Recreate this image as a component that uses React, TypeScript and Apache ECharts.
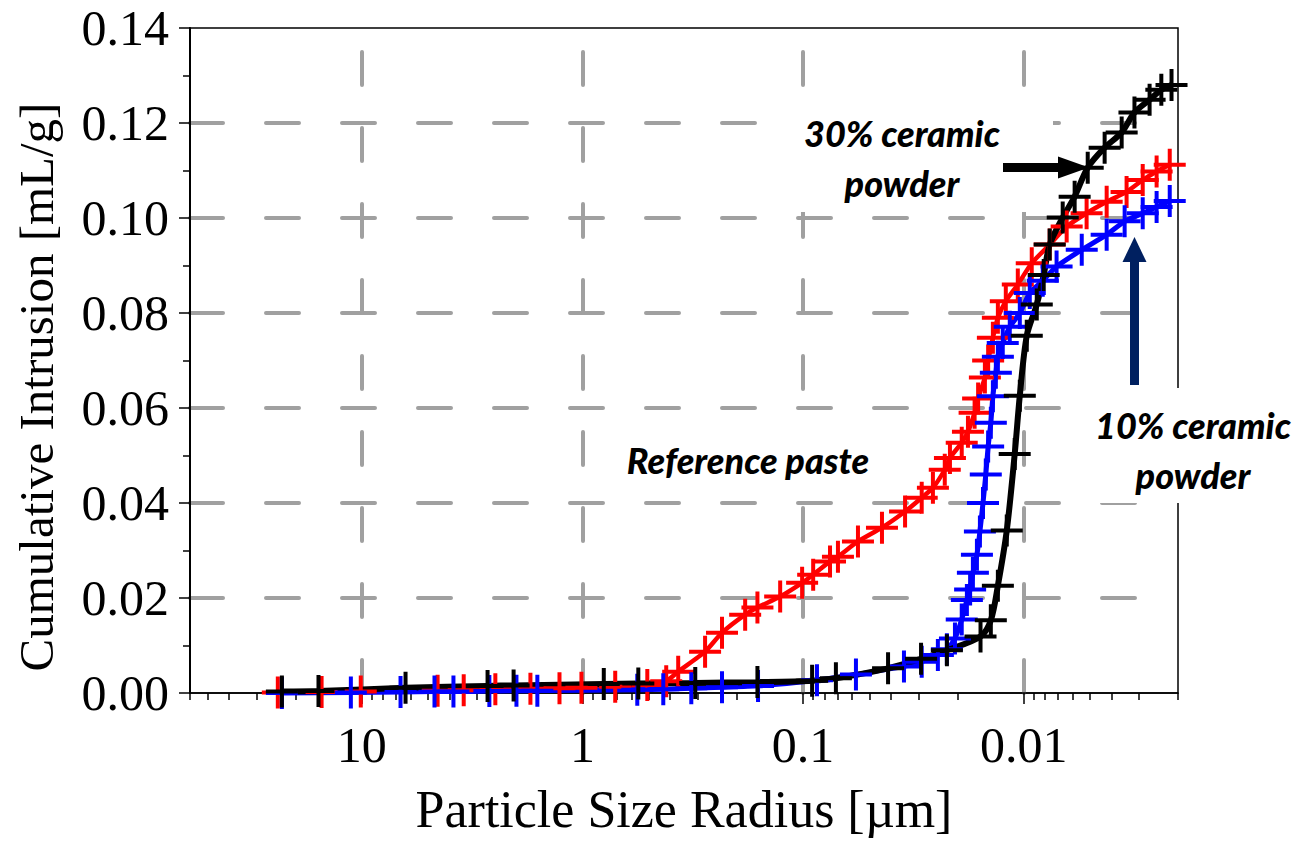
import React, { useEffect, useRef } from 'react';
import * as echarts from 'echarts';

// Mercury intrusion porosimetry: cumulative intrusion vs pore radius
// Reference paste (no ceramic powder)
const refRadius = [
  24.0, 15.2, 10.1, 4.53, 3.45, 2.48, 1.72, 1.27, 1.01, 0.71, 0.508, 0.417,
  0.368, 0.278, 0.233, 0.183, 0.161, 0.127, 0.101, 0.09, 0.0755, 0.0695,
  0.0564, 0.0439, 0.0345, 0.029, 0.0258, 0.0228, 0.0216, 0.0191, 0.0179,
  0.0167, 0.0161, 0.015, 0.0145, 0.0138, 0.0131, 0.01206, 0.01064, 0.0092,
  0.00763, 0.00639, 0.00519, 0.00421, 0.00342, 0.00289, 0.0025, 0.00218,
];
const refIntrusion = [
  0.0001, 0.0002, 0.0003, 0.0005, 0.0006, 0.0008, 0.0009, 0.001, 0.0011,
  0.0013, 0.0017, 0.0025, 0.0045, 0.0087, 0.0127, 0.0165, 0.018, 0.0203,
  0.0232, 0.0249, 0.0277, 0.0287, 0.0319, 0.0348, 0.0382, 0.0411, 0.0432,
  0.047, 0.0495, 0.0527, 0.055, 0.059, 0.062, 0.0664, 0.07, 0.0748, 0.079,
  0.0825, 0.086, 0.0905, 0.0944, 0.0982, 0.101, 0.1034, 0.1055, 0.108,
  0.1098, 0.1112,
];

// 10% ceramic powder
const c10Radius = [
  23.0, 11.2, 6.67, 4.68, 3.84, 2.64, 1.99, 1.6, 0.564, 0.43, 0.321, 0.233,
  0.16, 0.0865, 0.0576, 0.0349, 0.029, 0.0245, 0.0223, 0.0205, 0.0191,
  0.0181, 0.0175, 0.017, 0.0163, 0.0158, 0.0153, 0.01486, 0.0145, 0.0141,
  0.0138, 0.01338, 0.0131, 0.01245, 0.01157, 0.01042, 0.00939, 0.0082,
  0.0071, 0.00546, 0.00421, 0.00349, 0.00289, 0.0025, 0.00218,
];
const c10Intrusion = [
  0.0, 0.0001, 0.0002, 0.0003, 0.0003, 0.0004, 0.0005, 0.0005, 0.0007,
  0.0008, 0.001, 0.0012, 0.0015, 0.0027, 0.0039, 0.0056, 0.0066, 0.008,
  0.0092, 0.0115, 0.0155, 0.0196, 0.0218, 0.0253, 0.0291, 0.034, 0.04,
  0.046, 0.0519, 0.0569, 0.0625, 0.0674, 0.0708, 0.0737, 0.0771, 0.08,
  0.0842, 0.0868, 0.0898, 0.0933, 0.0965, 0.0993, 0.101, 0.1023, 0.1036,
];

// 30% ceramic powder
const c30Radius = [
  23.0, 15.7, 6.33, 2.69, 2.05, 0.8, 0.558, 0.308, 0.161, 0.091, 0.071,
  0.0412, 0.0292, 0.0223, 0.0157, 0.0141, 0.0131, 0.01194, 0.01099, 0.01042,
  0.00969, 0.00873, 0.00812, 0.00763, 0.00666, 0.00588, 0.00513, 0.0043,
  0.0036, 0.00315, 0.00269, 0.00238, 0.00214,
];
const c30Intrusion = [
  0.0003, 0.0004, 0.0011, 0.0015, 0.0016, 0.0019, 0.002, 0.0021, 0.0023,
  0.0026, 0.0031, 0.0052, 0.0072, 0.009, 0.0119, 0.0153, 0.0226, 0.0342,
  0.0503, 0.0626, 0.0752, 0.0818, 0.088, 0.0944, 0.1001, 0.1045, 0.1106,
  0.1148, 0.118, 0.1222, 0.1249, 0.127, 0.128,
];

// Axis ticks
const xTickValues = [10, 1, 0.1, 0.01];
const xTickLabels = ['10', '1', '0.1', '0.01'];
const xMinorTicks = [
  60, 50, 40, 30, 20, 9, 8, 7, 6, 5, 4, 3, 2, 0.9, 0.8, 0.7, 0.6, 0.5, 0.4,
  0.3, 0.2, 0.09, 0.08, 0.07, 0.06, 0.05, 0.04, 0.03, 0.02, 0.009, 0.008,
  0.007, 0.006, 0.005, 0.004, 0.003, 0.002,
];

const PLUS = 'path://M14,0H18V14H32V18H18V32H14V18H0V14H14Z';
const SERIF = '"Liberation Serif", "Times New Roman", serif';
const NOTE = 'Lato, "Open Sans", sans-serif';
const GRID_GRAY = '#a0a0a0';

function lineSeries(
  name: string,
  radius: number[],
  intrusion: number[],
  color: string,
  width: number,
  smooth: number | boolean
) {
  return {
    type: 'line',
    name,
    data: radius.map((r, i) => [r, intrusion[i]]),
    xAxisIndex: 0,
    yAxisIndex: 0,
    symbol: PLUS,
    symbolSize: 32,
    showAllSymbol: true,
    smooth,
    clip: false,
    silent: true,
    emphasis: { disabled: true },
    lineStyle: { color, width },
    itemStyle: { color, borderWidth: 0 },
  };
}

export default function App() {
  const ref = useRef<HTMLDivElement>(null);

  useEffect(() => {
    document.body.style.margin = '0';
    if (!ref.current) return;
    const chart = echarts.init(ref.current, undefined, { renderer: 'svg' });

    const noteStyle = {
      fontFamily: NOTE,
      fontWeight: 900,
      fontStyle: 'italic',
      fontSize: 36,
      fill: '#000',
      align: 'center',
      verticalAlign: 'middle',
      lineHeight: 50,
    };

    chart.setOption({
      animation: false,
      backgroundColor: '#fff',
      grid: {
        left: 190,
        right: 133,
        top: 28,
        bottom: 148,
        show: true,
        borderColor: '#000',
        borderWidth: 1.5,
        backgroundColor: 'transparent',
      },
      xAxis: [
        {
          type: 'log',
          logBase: 10,
          min: 0.002,
          max: 60,
          inverse: true,
          position: 'bottom',
          axisLine: { show: true, lineStyle: { color: '#000', width: 1.5 } },
          axisTick: {
            show: true,
            length: 11,
            customValues: xTickValues,
            lineStyle: { color: '#000', width: 1.5 },
          },
          axisLabel: {
            show: true,
            customValues: xTickValues,
            margin: 27,
            fontSize: 50,
            fontFamily: SERIF,
            color: '#000',
            formatter: (v: number) => {
              const i = xTickValues.findIndex((t) => Math.abs(Math.log10(v) - Math.log10(t)) < 1e-6);
              return i >= 0 ? xTickLabels[i] : '';
            },
          },
          splitLine: {
            show: true,
            lineStyle: { color: GRID_GRAY, width: 4, type: [33, 43], dashOffset: 52, cap: 'round' },
          },
          name: 'Particle Size Radius [µm]',
          nameLocation: 'middle',
          nameGap: 90,
          nameTextStyle: { fontSize: 52, fontFamily: SERIF, color: '#000' },
        },
        {
          type: 'log',
          logBase: 10,
          min: 0.002,
          max: 60,
          inverse: true,
          position: 'bottom',
          axisLine: { show: false },
          axisLabel: { show: false },
          splitLine: { show: false },
          axisTick: {
            show: true,
            length: 7,
            customValues: xMinorTicks,
            lineStyle: { color: '#000', width: 1.5 },
          },
        },
      ],
      yAxis: {
        type: 'value',
        min: 0,
        max: 0.14,
        interval: 0.02,
        axisLine: { show: true, lineStyle: { color: '#000', width: 2 } },
        axisTick: { show: true, length: 11, lineStyle: { color: '#000', width: 1.5 } },
        minorTick: { show: true, splitNumber: 2, length: 7, lineStyle: { color: '#000', width: 1.5 } },
        axisLabel: {
          margin: 21,
          fontSize: 50,
          fontFamily: SERIF,
          color: '#000',
          formatter: (v: number) => v.toFixed(2),
        },
        splitLine: {
          show: true,
          showMinLine: false,
          showMaxLine: false,
          lineStyle: { color: GRID_GRAY, width: 4, type: [33, 43], dashOffset: 0, cap: 'round' },
        },
      },
      series: [
        lineSeries('Reference paste', refRadius, refIntrusion, '#ff0000', 4.5, 0.2),
        lineSeries('10% ceramic powder', c10Radius, c10Intrusion, '#0000ff', 5, 0.2),
        lineSeries('30% ceramic powder', c30Radius, c30Intrusion, '#000000', 6, 0.3),
      ],
      graphic: [
        // white backing behind annotations
        { type: 'rect', silent: true, z: 10, shape: { x: 790, y: 100, width: 263, height: 112 }, style: { fill: '#fff' } },
        { type: 'rect', silent: true, z: 10, shape: { x: 618, y: 420, width: 260, height: 77 }, style: { fill: '#fff' } },
        { type: 'rect', silent: true, z: 10, shape: { x: 1080, y: 388, width: 231, height: 115 }, style: { fill: '#fff' } },
        { type: 'text', silent: true, z: 11, x: 902, y: 158, style: { ...noteStyle, text: '30% ceramic\npowder' } },
        { type: 'text', silent: true, z: 11, x: 748, y: 460, style: { ...noteStyle, text: 'Reference paste' } },
        { type: 'text', silent: true, z: 11, x: 1193, y: 450, style: { ...noteStyle, text: '10% ceramic\npowder' } },
        // black arrow pointing right
        { type: 'rect', silent: true, z: 11, shape: { x: 1003, y: 163, width: 58, height: 9 }, style: { fill: '#000' } },
        { type: 'polygon', silent: true, z: 11, shape: { points: [[1058, 156.5], [1089, 167.5], [1058, 178.5]] }, style: { fill: '#000' } },
        // navy arrow pointing up
        { type: 'rect', silent: true, z: 11, shape: { x: 1130, y: 259, width: 9, height: 126 }, style: { fill: '#002060' } },
        { type: 'polygon', silent: true, z: 11, shape: { points: [[1122.5, 262], [1134.5, 237], [1146.5, 262]] }, style: { fill: '#002060' } },
        // y-axis title
        {
          type: 'text',
          silent: true,
          z: 11,
          x: 36,
          y: 387,
          rotation: Math.PI / 2,
          style: {
            text: 'Cumulative Intrusion [mL/g]',
            fontFamily: SERIF,
            fontSize: 49,
            fill: '#000',
            align: 'center',
            verticalAlign: 'middle',
          },
        },
      ],
    });

    return () => chart.dispose();
  }, []);

  return <div ref={ref} style={{ width: 1311, height: 841 }} />;
}
